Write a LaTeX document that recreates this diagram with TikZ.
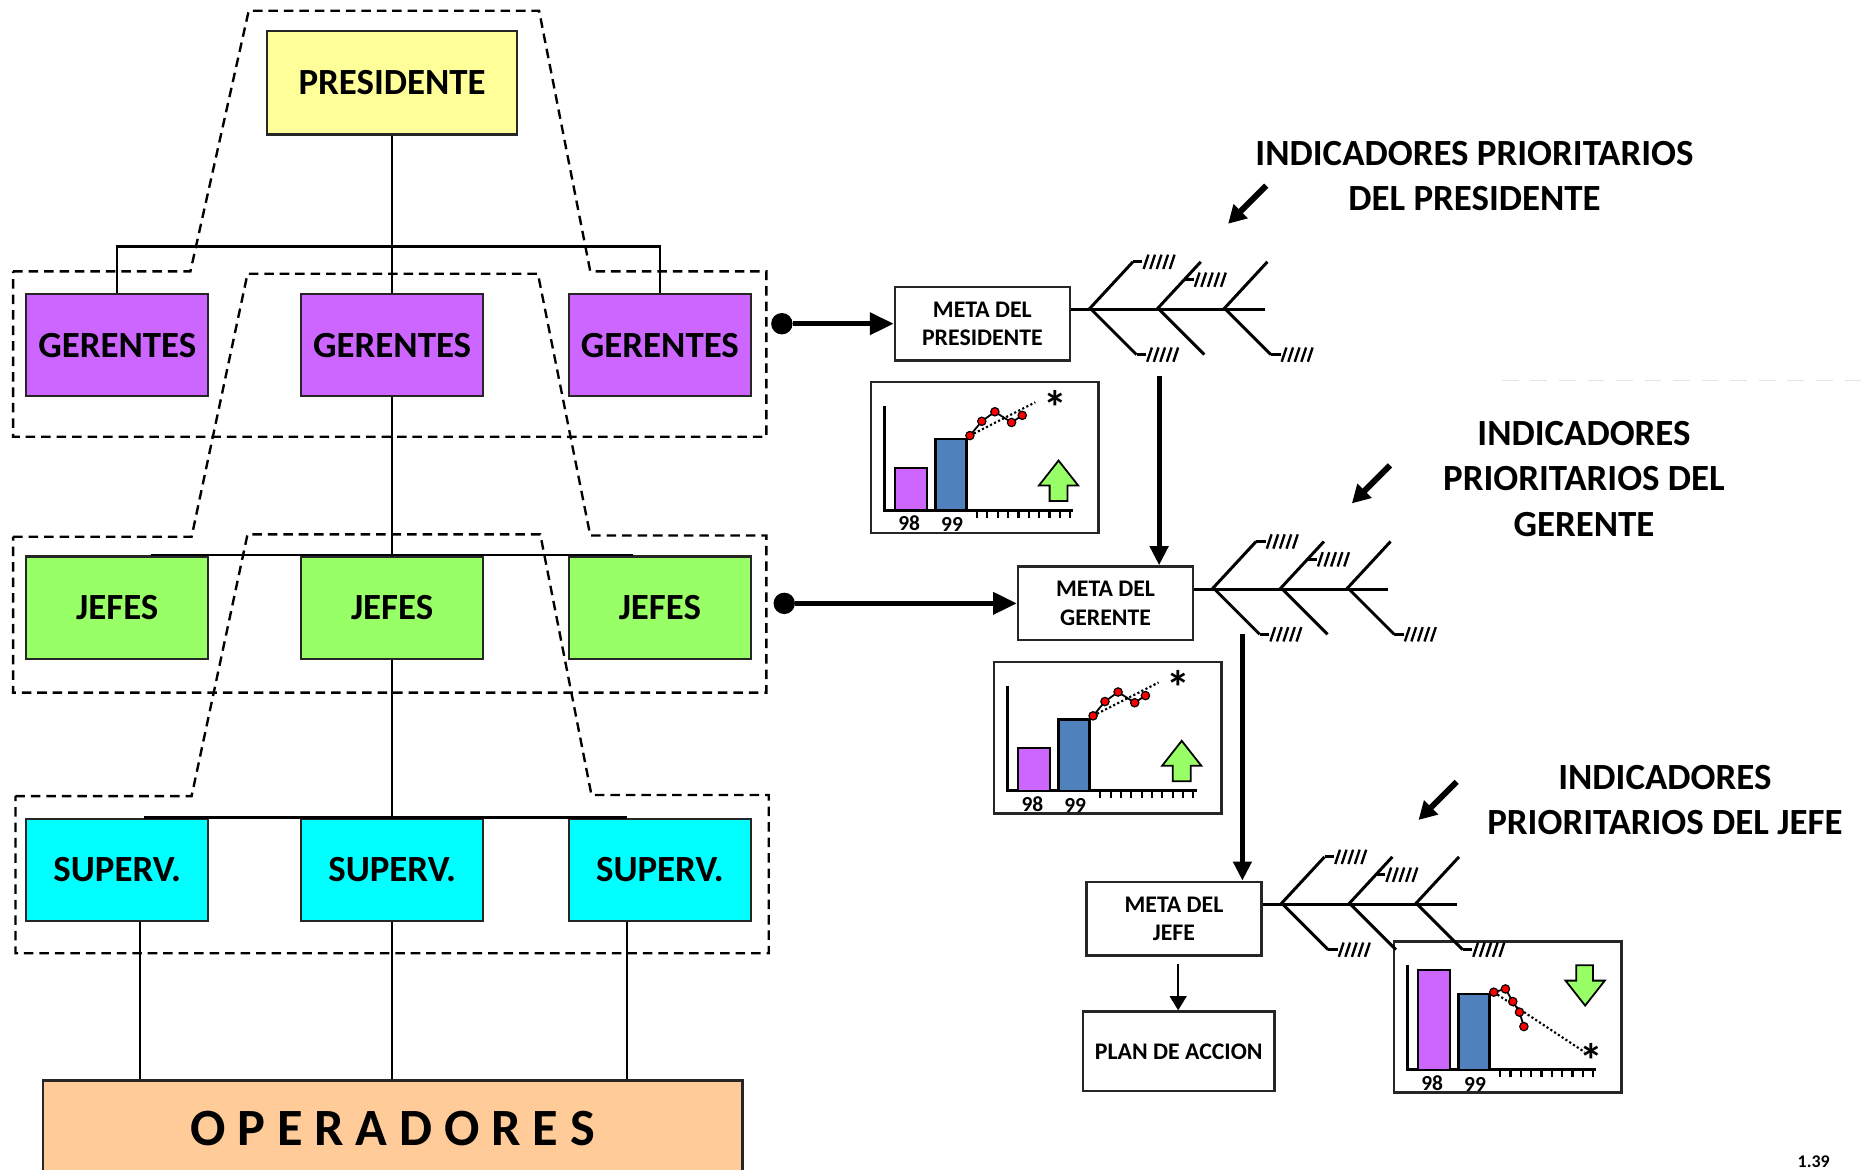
\documentclass[tikz,border=0pt]{standalone}
\usepackage{fontspec}
\setmainfont{Carlito}
\usepackage{tikz}
\usetikzlibrary{shapes,arrows,arrows.meta,positioning}

\definecolor{amarillo}{HTML}{FFFF99}
\definecolor{violeta}{HTML}{CC66FF}
\definecolor{verde}{HTML}{99FF66}
\definecolor{celeste}{HTML}{00FFFF}
\definecolor{durazno}{HTML}{FFCC99}
\definecolor{azulbarra}{HTML}{4F81BD}

% tick plus hatching at the end of a bone
\newcommand{\rayas}[2]{%
  \draw (#1,#2) -- ++(8,0);
  \foreach \k in {0,...,4} \draw[line width=2pt] ({#1+9+5.5*\k},{#2+6}) -- ++(4,-12);
}
% fishbone, origin at the start of the spine
\newcommand{\espina}[1]{%
  \begin{scope}[shift={#1}, line width=2.5pt]
    \draw (0,0) -- (163,0);
    \foreach \j in {15,72,128} {
      \draw (\j,0) -- ++(37,-40);
      \draw (\j+2,0) -- ++(38,38);
    }
    \rayas{52}{-40}
    \rayas{95}{-25}
    \rayas{55}{38}
    \rayas{168}{38}
  \end{scope}
}
% axes, bars and year labels of a chart
\newcommand{\ejes}[3]{%
  \draw[line width=2.5pt] (12,21) -- (12,109) -- (171,109);
  \foreach \t in {0,...,9} \draw[line width=1.8pt] ({90+8.7*\t},109) -- ++(0,6);
  \draw[barra, fill=violeta] (21,109) rectangle (48,#2);
  \draw[barra, fill=azulbarra] (55,109) rectangle (81,#3);
  \node[etiqueta] (#1a) at (33,120) {98};
  \node[etiqueta] (#1b) at (69,121) {99};
}
% rising chart
\newcommand{\graficasube}[1]{%
  \begin{scope}[shift={(#1.north west)}]
    \ejes{#1}{73}{49}
    \draw[dotted, line width=1.8pt] (84,46) -- (139,18);
    \draw[line width=1.5pt] (84,46) -- (94,34) -- (105,26) -- (119,35) -- (128,29);
    \foreach \x/\y in {84/46, 94/34, 105/26, 119/35, 128/29} \draw[puntorojo] (\x,\y) circle (3.5pt);
    \node[asterisco] (#1c) at (156,22) {*};
    \draw[flechaverde] (142,88) -- (158.5,67) -- (175,88) -- (166,88) -- (166,101) -- (151,101) -- (151,88) -- cycle;
  \end{scope}
}

\begin{document}
\begin{tikzpicture}[x=1pt, y=-1pt, node distance=220.5pt]
    % Define styles
    \tikzstyle{caja} = [rectangle, draw=black!85, line width=2pt, minimum width=153pt, minimum height=86pt, inner sep=0pt, font=\fontsize{31}{36}\selectfont\bfseries]
    \tikzstyle{presi} = [caja, fill=amarillo, minimum width=210pt, minimum height=87pt]
    \tikzstyle{gerente} = [caja, fill=violeta]
    \tikzstyle{jefe} = [caja, fill=verde]
    \tikzstyle{superv} = [caja, fill=celeste]
    \tikzstyle{oper} = [caja, fill=durazno, minimum width=588pt, minimum height=80pt, font=\fontsize{44}{48}\selectfont\bfseries]
    \tikzstyle{meta} = [rectangle, draw=black!85, line width=2pt, minimum width=147pt, minimum height=62pt, inner sep=0pt, align=center, font=\fontsize{20}{24}\selectfont\bfseries]
    \tikzstyle{plan} = [meta, minimum width=161pt, minimum height=67pt]
    \tikzstyle{grafico} = [rectangle, draw=black!85, line width=2pt, minimum width=191pt, minimum height=127pt, inner sep=0pt]
    \tikzstyle{titulo} = [align=center, inner sep=0pt, font=\fontsize{31}{38}\selectfont\bfseries]
    \tikzstyle{etiqueta} = [inner sep=0pt, font=\fontsize{18}{20}\selectfont\bfseries]
    \tikzstyle{asterisco} = [inner sep=0pt, font=\fontsize{40}{44}\selectfont\bfseries]
    \tikzstyle{barra} = [draw=black, line width=2pt]
    \tikzstyle{puntorojo} = [fill=red, draw=black, line width=1pt]
    \tikzstyle{flechaverde} = [fill=verde, draw=black, line width=1.5pt, line join=miter]
    \tikzstyle{punto} = [circle, fill=black, minimum size=18pt, inner sep=0pt]
    \tikzstyle{linea} = [line width=2pt]
    \tikzstyle{tramo} = [line width=2pt, dash pattern=on 8pt off 5pt]
    \tikzstyle{gruesa} = [line width=4.5pt, -{Triangle[length=20pt,width=18pt]}]
    \tikzstyle{gruesav} = [line width=4pt, -{Triangle[length=16pt,width=15pt]}]
    \tikzstyle{diagonal} = [line width=5pt, -{Triangle[length=15pt,width=16pt]}]
    \tikzstyle{fina} = [line width=2pt, -{Triangle[length=12pt,width=14pt]}]

    \useasboundingbox (0,0) rectangle (1568,983);
    \fill[white] (0,0) rectangle (1568,983);
    \draw[black!10, line width=1pt, dash pattern=on 14pt off 10pt] (1262,320) -- (1568,320);

    % Dashed groups
    \draw[tramo] (11,228) -- (160,228) -- (209,9) -- (453,9) -- (496,228) -- (644,228) -- (644,367) -- (11,367) -- cycle;
    \draw[tramo] (11,451) -- (161,451) -- (208,230) -- (452,230) -- (496,450) -- (644,450) -- (644,582) -- (11,582) -- cycle;
    \draw[tramo] (13,669) -- (161,669) -- (208,449) -- (454,449) -- (497,668) -- (646,668) -- (646,801) -- (13,801) -- cycle;

    % Org chart
    \node[presi] (pres) at (329.5,69.5) {PRESIDENTE};
    \node[gerente, below of=pres] (ger2) {GERENTES};
    \node[gerente, left of=ger2, xshift=-10.5pt] (ger1) {GERENTES};
    \node[gerente, right of=ger2, xshift=4.5pt] (ger3) {GERENTES};
    \node[jefe, below of=ger2] (jef2) {JEFES};
    \node[jefe, left of=jef2, xshift=-10.5pt] (jef1) {JEFES};
    \node[jefe, right of=jef2, xshift=4.5pt] (jef3) {JEFES};
    \node[superv, below of=jef2] (sup2) {SUPERV.};
    \node[superv, left of=sup2, xshift=-10.5pt] (sup1) {SUPERV.};
    \node[superv, right of=sup2, xshift=4.5pt] (sup3) {SUPERV.};
    \node[oper] (oper) at (330,948) {O P E R A D O R E S};

    % Org connections
    \coordinate (barra1) at (329.5,207);
    \draw[linea] (pres) -- (ger2);
    \draw[linea] (ger1.north) |- (barra1) -| (ger3.north);
    \draw[linea] (ger2) -- (jef2);
    \draw[linea] (jef2) -- (sup2);
    \draw[linea] ([xshift=28.5pt]jef1.north) -- ([xshift=-22.5pt]jef3.north);
    \draw[linea] ([xshift=22.5pt]sup1.north) -- ([xshift=-27.5pt]sup3.north);
    \coordinate (o1) at ([xshift=19pt]sup1.south);
    \coordinate (o3) at ([xshift=-27.5pt]sup3.south);
    \draw[linea] (o1) -- (o1 |- oper.north);
    \draw[linea] (sup2.south) -- (sup2.south |- oper.north);
    \draw[linea] (o3) -- (o3 |- oper.north);

    % Goals
    \node[meta] (metapres) at (825.5,272) {META DEL\\PRESIDENTE};
    \node[meta] (metager) at (929,507) {META DEL\\GERENTE};
    \node[meta] (metajefe) at (986.5,772) {META DEL\\JEFE};
    \node[plan] (plan) at (990.5,883.5) {PLAN DE ACCION};

    % Charts
    \node[grafico] (graf1) at (827.5,384.5) {};
    \node[grafico] (graf2) at (931,620) {};
    \node[grafico] (graf3) at (1267,854.5) {};
    \graficasube{graf1}
    \graficasube{graf2}
    \begin{scope}[shift={(graf3.north west)}]
        \ejes{graf3}{25}{45}
        \draw[dotted, line width=1.8pt] (84.7,43.7) -- (161,94);
        \draw[line width=1.5pt] (84.7,43.7) -- (94.5,41) -- (100.7,51.6) -- (106.3,60.5) -- (110,72.6);
        \foreach \x/\y in {84.7/43.7, 94.5/41, 100.7/51.6, 106.3/60.5, 110/72.6} \draw[puntorojo] (\x,\y) circle (3.5pt);
        \node[asterisco] (graf3c) at (167,101) {*};
        \draw[flechaverde] (154,21) -- (168,21) -- (168,34) -- (178,34) -- (161.5,55) -- (145,34) -- (154,34) -- cycle;
    \end{scope}

    % Fishbones
    \espina{([yshift=12pt]metapres.east)}
    \espina{([yshift=12pt]metager.east)}
    \espina{([yshift=12pt]metajefe.east)}

    % Indicator titles
    \node[titulo] (ind1) at (1239,148) {INDICADORES PRIORITARIOS\\DEL PRESIDENTE};
    \node[titulo] (ind2) at (1331,402.5) {INDICADORES\\PRIORITARIOS DEL\\GERENTE};
    \node[titulo] (ind3) at (1399,672) {INDICADORES\\PRIORITARIOS DEL JEFE};
    \node[inner sep=0pt, font=\fontsize{15}{17}\selectfont\bfseries] (pagina) at (1524,976) {1.39};

    % Connections
    \node[punto] (p1) at (657,272) {};
    \node[punto] (p2) at (659,507) {};
    \draw[gruesa] (p1) -- (metapres);
    \draw[gruesa] (p2) -- (metager);
    \coordinate (v1) at (974,316);
    \draw[gruesav] (v1) -- (v1 |- metager.north);
    \coordinate (v2) at (1044,533);
    \draw[gruesav] (v2) -- (v2 |- metajefe.north);
    \coordinate (pj) at ([xshift=3.5pt,yshift=-6pt]metajefe.south);
    \draw[fina] (pj) -- (pj |- plan.north);
    \coordinate (d1a) at (1064,156);
    \coordinate (d1b) at (1032,188);
    \draw[diagonal] (d1a) -- (d1b);
    \coordinate (d2a) at (1168,391);
    \coordinate (d2b) at (1136,423);
    \draw[diagonal] (d2a) -- (d2b);
    \coordinate (d3a) at (1224,657);
    \coordinate (d3b) at (1192,689);
    \draw[diagonal] (d3a) -- (d3b);
\end{tikzpicture}
\end{document}
